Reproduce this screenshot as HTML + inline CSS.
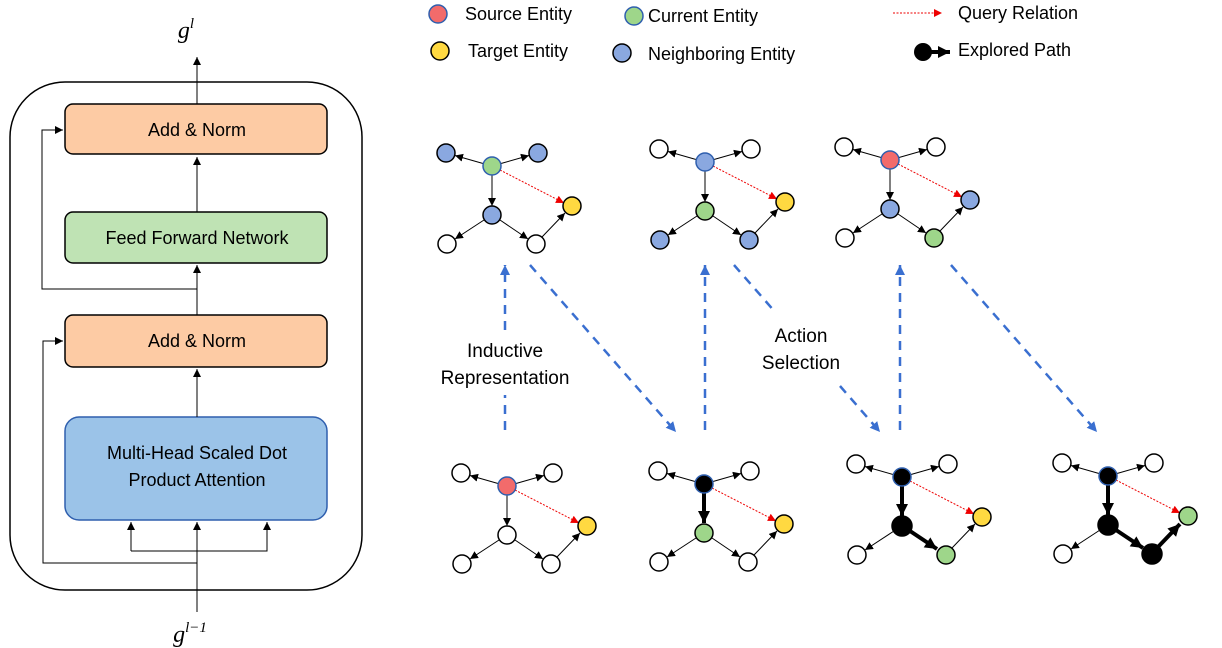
<!DOCTYPE html>
<html><head><meta charset="utf-8"><style>
body{margin:0;background:#fff;}
svg{display:block;font-family:"Liberation Sans",sans-serif;}
</style></head><body>
<svg width="1222" height="648" viewBox="0 0 1222 648" xmlns="http://www.w3.org/2000/svg">
<defs>
<marker id="a" markerUnits="userSpaceOnUse" markerWidth="10" markerHeight="10" refX="8" refY="4" orient="auto"><path d="M0,0 L8,4 L0,8 z" fill="#000"/></marker>
<marker id="ab" markerUnits="userSpaceOnUse" markerWidth="14" markerHeight="14" refX="12" refY="6" orient="auto"><path d="M0,0 L12,6 L0,12 z" fill="#000"/></marker>
<marker id="ar" markerUnits="userSpaceOnUse" markerWidth="10" markerHeight="10" refX="8" refY="4" orient="auto"><path d="M0,0 L8,4 L0,8 z" fill="#e00"/></marker>
<marker id="abl" markerUnits="userSpaceOnUse" markerWidth="12" markerHeight="12" refX="10" refY="5" orient="auto"><path d="M0,0 L10,5 L0,10 z" fill="#3a6fd0"/></marker>
</defs>

<rect x="10" y="82" width="352" height="508" rx="55" fill="none" stroke="#000" stroke-width="1.5"/>
<rect x="65" y="104" width="262" height="50" rx="8" fill="#fdcba4" stroke="#000" stroke-width="1.5"/>
<text x="197" y="136" font-size="18" text-anchor="middle">Add &amp; Norm</text>
<rect x="65" y="212" width="262" height="51" rx="8" fill="#bfe3b4" stroke="#000" stroke-width="1.5"/>
<text x="197" y="244" font-size="18" text-anchor="middle">Feed Forward Network</text>
<rect x="65" y="315" width="262" height="52" rx="8" fill="#fdcba4" stroke="#000" stroke-width="1.5"/>
<text x="197" y="347" font-size="18" text-anchor="middle">Add &amp; Norm</text>
<rect x="65" y="417" width="262" height="103" rx="14" fill="#9bc3e8" stroke="#2f5fae" stroke-width="1.5"/>
<text x="197" y="459" font-size="18" text-anchor="middle">Multi-Head Scaled Dot</text>
<text x="197" y="486" font-size="18" text-anchor="middle">Product Attention</text>
<g stroke="#000" stroke-width="1" fill="none">
<line x1="197" y1="104" x2="197" y2="57" marker-end="url(#a)"/>
<line x1="197" y1="212" x2="197" y2="157" marker-end="url(#a)"/>
<line x1="197" y1="315" x2="197" y2="265" marker-end="url(#a)"/>
<line x1="197" y1="417" x2="197" y2="369" marker-end="url(#a)"/>
<polyline points="197,289 42,289 42,130 63,130" marker-end="url(#a)"/>
<polyline points="197,563 43,563 43,341 63,341" marker-end="url(#a)"/>
<line x1="197" y1="612" x2="197" y2="522" marker-end="url(#a)"/>
<polyline points="131,551 131,522" marker-end="url(#a)"/>
<polyline points="131,551 267,551 267,522" marker-end="url(#a)"/>
</g>
<text x="186" y="38" font-size="24" font-style="italic" font-family="Liberation Serif,serif" text-anchor="middle">g<tspan font-size="15" dy="-10">l</tspan></text>
<text x="190" y="642" font-size="24" font-style="italic" font-family="Liberation Serif,serif" text-anchor="middle">g<tspan font-size="15" dy="-10">l−1</tspan></text>

<g stroke-width="1.5" font-size="18">
<circle cx="438" cy="14" r="9" fill="#f26b6b" stroke="#2f5fae"/><text x="465" y="20">Source Entity</text>
<circle cx="634" cy="16" r="9" fill="#9ed68a" stroke="#2f5fae"/><text x="648" y="22">Current Entity</text>
<circle cx="440" cy="51" r="9" fill="#ffd941" stroke="#000"/><text x="468" y="57">Target Entity</text>
<circle cx="622" cy="53" r="9" fill="#8aa8e0" stroke="#000"/><text x="648" y="60">Neighboring Entity</text>
<line x1="893" y1="13" x2="942" y2="13" stroke="#e00" stroke-width="1" stroke-dasharray="2,1.5" marker-end="url(#ar)"/><text x="958" y="19">Query Relation</text>
<circle cx="923" cy="52" r="9" fill="#000" stroke="none"/><line x1="926" y1="52" x2="950" y2="52" stroke="#000" stroke-width="4" marker-end="url(#ab)"/><text x="958" y="56">Explored Path</text>
</g>

<g stroke="#3a6fd0" stroke-width="2.5" stroke-dasharray="9,7" fill="none">
<line x1="505" y1="430" x2="505" y2="395"/><line x1="505" y1="330" x2="505" y2="265" marker-end="url(#abl)"/>
<line x1="530" y1="265" x2="676" y2="432" marker-end="url(#abl)"/>
<line x1="705" y1="430" x2="705" y2="265" marker-end="url(#abl)"/>
<line x1="734" y1="265" x2="776" y2="313"/><line x1="840" y1="386" x2="880" y2="432" marker-end="url(#abl)"/>
<line x1="900" y1="430" x2="900" y2="265" marker-end="url(#abl)"/>
<line x1="951" y1="265" x2="1097" y2="432" marker-end="url(#abl)"/>
</g>
<g font-size="19" text-anchor="middle">
<text x="505" y="357">Inductive</text><text x="505" y="384">Representation</text>
<text x="801" y="342">Action</text><text x="801" y="369">Selection</text>
</g>

<g transform="translate(492,166)" stroke="#000" stroke-width="1">
<line x1="-9" y1="-2.5" x2="-37" y2="-10.5" marker-end="url(#a)"/><line x1="9" y1="-2.5" x2="37" y2="-10.5" marker-end="url(#a)"/>
<line x1="0" y1="9" x2="0" y2="40" marker-end="url(#a)"/><line x1="-8" y1="54" x2="-37" y2="73" marker-end="url(#a)"/>
<line x1="8" y1="54" x2="36" y2="73" marker-end="url(#a)"/><line x1="50" y1="71" x2="73" y2="47" marker-end="url(#a)"/>
<line x1="8" y1="4" x2="72" y2="37" stroke="#e00" stroke-dasharray="2,1.5" marker-end="url(#ar)"/>
<g stroke-width="1.5"><circle cx="0" cy="0" r="9" fill="#9ed68a" stroke="#2f5fae"/><circle cx="-46" cy="-13" r="9" fill="#8aa8e0"/><circle cx="46" cy="-13" r="9" fill="#8aa8e0"/><circle cx="0" cy="49" r="9" fill="#8aa8e0"/><circle cx="-45" cy="78" r="9" fill="#fff"/><circle cx="44" cy="78" r="9" fill="#fff"/><circle cx="80" cy="40" r="9" fill="#ffd941"/></g>
</g>
<g transform="translate(705,162)" stroke="#000" stroke-width="1">
<line x1="-9" y1="-2.5" x2="-37" y2="-10.5" marker-end="url(#a)"/><line x1="9" y1="-2.5" x2="37" y2="-10.5" marker-end="url(#a)"/>
<line x1="0" y1="9" x2="0" y2="40" marker-end="url(#a)"/><line x1="-8" y1="54" x2="-37" y2="73" marker-end="url(#a)"/>
<line x1="8" y1="54" x2="36" y2="73" marker-end="url(#a)"/><line x1="50" y1="71" x2="73" y2="47" marker-end="url(#a)"/>
<line x1="8" y1="4" x2="72" y2="37" stroke="#e00" stroke-dasharray="2,1.5" marker-end="url(#ar)"/>
<g stroke-width="1.5"><circle cx="0" cy="0" r="9" fill="#8aa8e0" stroke="#2f5fae"/><circle cx="-46" cy="-13" r="9" fill="#fff"/><circle cx="46" cy="-13" r="9" fill="#fff"/><circle cx="0" cy="49" r="9" fill="#9ed68a"/><circle cx="-45" cy="78" r="9" fill="#8aa8e0"/><circle cx="44" cy="78" r="9" fill="#8aa8e0"/><circle cx="80" cy="40" r="9" fill="#ffd941"/></g>
</g>
<g transform="translate(890,160)" stroke="#000" stroke-width="1">
<line x1="-9" y1="-2.5" x2="-37" y2="-10.5" marker-end="url(#a)"/><line x1="9" y1="-2.5" x2="37" y2="-10.5" marker-end="url(#a)"/>
<line x1="0" y1="9" x2="0" y2="40" marker-end="url(#a)"/><line x1="-8" y1="54" x2="-37" y2="73" marker-end="url(#a)"/>
<line x1="8" y1="54" x2="36" y2="73" marker-end="url(#a)"/><line x1="50" y1="71" x2="73" y2="47" marker-end="url(#a)"/>
<line x1="8" y1="4" x2="72" y2="37" stroke="#e00" stroke-dasharray="2,1.5" marker-end="url(#ar)"/>
<g stroke-width="1.5"><circle cx="0" cy="0" r="9" fill="#f26b6b" stroke="#2f5fae"/><circle cx="-46" cy="-13" r="9" fill="#fff"/><circle cx="46" cy="-13" r="9" fill="#fff"/><circle cx="0" cy="49" r="9" fill="#8aa8e0"/><circle cx="-45" cy="78" r="9" fill="#fff"/><circle cx="44" cy="78" r="9" fill="#9ed68a"/><circle cx="80" cy="40" r="9" fill="#8aa8e0"/></g>
</g>
<g transform="translate(507,486)" stroke="#000" stroke-width="1">
<line x1="-9" y1="-2.5" x2="-37" y2="-10.5" marker-end="url(#a)"/><line x1="9" y1="-2.5" x2="37" y2="-10.5" marker-end="url(#a)"/>
<line x1="0" y1="9" x2="0" y2="40" marker-end="url(#a)"/><line x1="-8" y1="54" x2="-37" y2="73" marker-end="url(#a)"/>
<line x1="8" y1="54" x2="36" y2="73" marker-end="url(#a)"/><line x1="50" y1="71" x2="73" y2="47" marker-end="url(#a)"/>
<line x1="8" y1="4" x2="72" y2="37" stroke="#e00" stroke-dasharray="2,1.5" marker-end="url(#ar)"/>
<g stroke-width="1.5"><circle cx="0" cy="0" r="9" fill="#f26b6b" stroke="#2f5fae"/><circle cx="-46" cy="-13" r="9" fill="#fff"/><circle cx="46" cy="-13" r="9" fill="#fff"/><circle cx="0" cy="49" r="9" fill="#fff"/><circle cx="-45" cy="78" r="9" fill="#fff"/><circle cx="44" cy="78" r="9" fill="#fff"/><circle cx="80" cy="40" r="9" fill="#ffd941"/></g>
</g>
<g transform="translate(704,484)" stroke="#000" stroke-width="1">
<line x1="-9" y1="-2.5" x2="-37" y2="-10.5" marker-end="url(#a)"/><line x1="9" y1="-2.5" x2="37" y2="-10.5" marker-end="url(#a)"/>
<line x1="0" y1="9" x2="0" y2="39" stroke-width="4" marker-end="url(#ab)"/><line x1="-8" y1="54" x2="-37" y2="73" marker-end="url(#a)"/>
<line x1="8" y1="54" x2="36" y2="73" marker-end="url(#a)"/><line x1="50" y1="71" x2="73" y2="47" marker-end="url(#a)"/>
<line x1="8" y1="4" x2="72" y2="37" stroke="#e00" stroke-dasharray="2,1.5" marker-end="url(#ar)"/>
<g stroke-width="1.5"><circle cx="0" cy="0" r="9" fill="#000" stroke="#2f5fae"/><circle cx="-46" cy="-13" r="9" fill="#fff"/><circle cx="46" cy="-13" r="9" fill="#fff"/><circle cx="0" cy="49" r="9" fill="#9ed68a"/><circle cx="-45" cy="78" r="9" fill="#fff"/><circle cx="44" cy="78" r="9" fill="#fff"/><circle cx="80" cy="40" r="9" fill="#ffd941"/></g>
</g>
<g transform="translate(902,477)" stroke="#000" stroke-width="1">
<line x1="-9" y1="-2.5" x2="-37" y2="-10.5" marker-end="url(#a)"/><line x1="9" y1="-2.5" x2="37" y2="-10.5" marker-end="url(#a)"/>
<line x1="0" y1="9" x2="0" y2="39" stroke-width="4" marker-end="url(#ab)"/><line x1="-8" y1="54" x2="-37" y2="73" marker-end="url(#a)"/>
<line x1="8" y1="54" x2="35" y2="72" stroke-width="4" marker-end="url(#ab)"/><line x1="50" y1="71" x2="73" y2="47" marker-end="url(#a)"/>
<line x1="8" y1="4" x2="72" y2="37" stroke="#e00" stroke-dasharray="2,1.5" marker-end="url(#ar)"/>
<g stroke-width="1.5"><circle cx="0" cy="0" r="9" fill="#000" stroke="#2f5fae"/><circle cx="-46" cy="-13" r="9" fill="#fff"/><circle cx="46" cy="-13" r="9" fill="#fff"/><circle cx="0" cy="49" r="10" fill="#000"/><circle cx="-45" cy="78" r="9" fill="#fff"/><circle cx="44" cy="78" r="9" fill="#9ed68a"/><circle cx="80" cy="40" r="9" fill="#ffd941"/></g>
</g>
<g transform="translate(1108,476)" stroke="#000" stroke-width="1">
<line x1="-9" y1="-2.5" x2="-37" y2="-10.5" marker-end="url(#a)"/><line x1="9" y1="-2.5" x2="37" y2="-10.5" marker-end="url(#a)"/>
<line x1="0" y1="9" x2="0" y2="39" stroke-width="4" marker-end="url(#ab)"/><line x1="-8" y1="54" x2="-37" y2="73" marker-end="url(#a)"/>
<line x1="8" y1="54" x2="35" y2="72" stroke-width="4" marker-end="url(#ab)"/><line x1="50" y1="71" x2="72" y2="48" stroke-width="4" marker-end="url(#ab)"/>
<line x1="8" y1="4" x2="72" y2="37" stroke="#e00" stroke-dasharray="2,1.5" marker-end="url(#ar)"/>
<g stroke-width="1.5"><circle cx="0" cy="0" r="9" fill="#000" stroke="#2f5fae"/><circle cx="-46" cy="-13" r="9" fill="#fff"/><circle cx="46" cy="-13" r="9" fill="#fff"/><circle cx="0" cy="49" r="10" fill="#000"/><circle cx="-45" cy="78" r="9" fill="#fff"/><circle cx="44" cy="78" r="10" fill="#000"/><circle cx="80" cy="40" r="9" fill="#9ed68a"/></g>
</g>
</svg>
</body></html>
